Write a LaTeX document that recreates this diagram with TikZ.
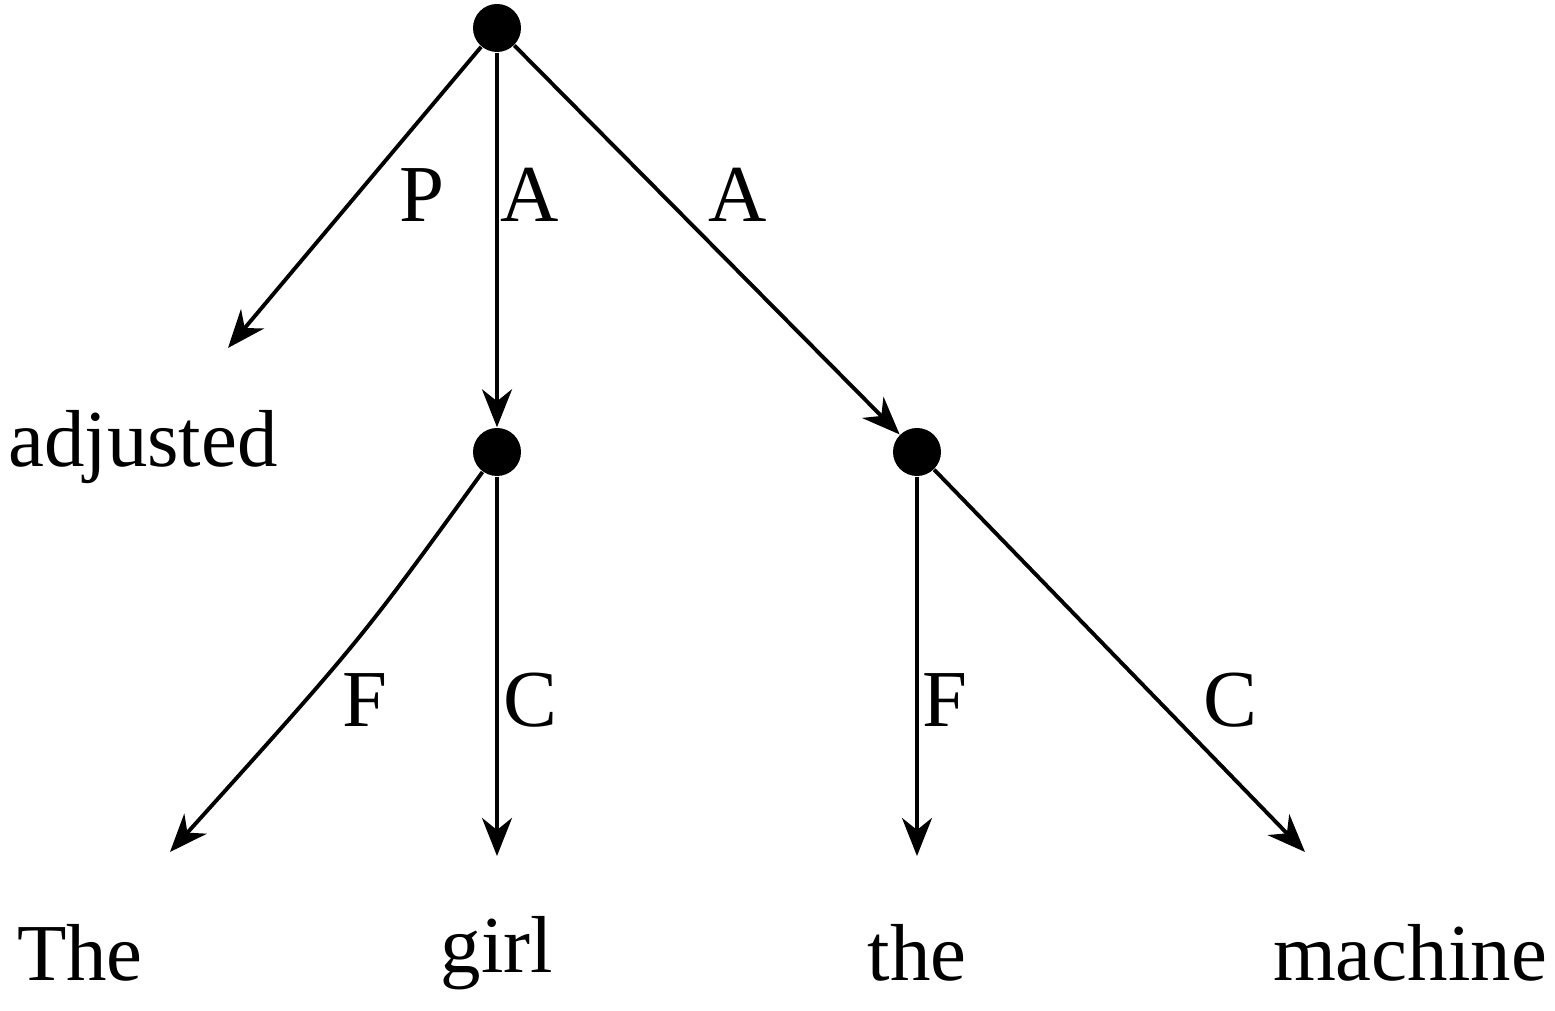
\documentclass[tikz,border=0pt]{standalone}
\usepackage{fontspec}
\setmainfont{Liberation Serif}
\usetikzlibrary{arrows.meta}
\begin{document}
\begin{tikzpicture}[x=1cm,y=1cm,
    dot/.style={circle, fill, inner sep=0pt, minimum size=0.48cm},
    word/.style={font=\fontsize{23}{26}\selectfont, inner sep=0pt},
    lbl/.style={font=\fontsize{23}{26}\selectfont, inner sep=0pt},
    edge/.style={line width=1.1pt, -{Stealth[length=0.38cm, width=0.3cm, inset=0.12cm]}}]
    \useasboundingbox (0,0) rectangle (15.55,10.11);
    % knoten
    \node[dot] (R) at (4.97, 9.83) {};
    \node[dot] (G) at (4.97, 5.59) {};
    \node[dot] (M) at (9.17, 5.59) {};
    % pfeilenden
    \coordinate (adj) at (2.28, 6.63);
    \coordinate (t1) at (1.70, 1.59);
    \coordinate (t2) at (4.97, 1.55);
    \coordinate (t3) at (9.17, 1.55);
    \coordinate (t4) at (13.05, 1.59);
    % woerter
    \node[word] (wadj) at (1.43, 5.64) {adjusted};
    \node[word] (wThe) at (0.80, 0.58) {The};
    \node[word] (wgirl) at (4.97, 0.58) {girl};
    \node[word] (wthe) at (9.17, 0.58) {the};
    \node[word] (wmach) at (14.10, 0.58) {machine};

    % kanten
    \draw[edge] (R) -- (adj);
    \draw[edge] (R) -- (G);
    \draw[edge] (R) -- (M);
    \draw[edge] (G) .. controls (3.6, 3.7) .. (t1);
    \draw[edge] (G) -- (t2);
    \draw[edge] (M) -- (t3);
    \draw[edge] (M) -- (t4);

    % beschriftungen
    \node[lbl] (lP) at (4.22, 8.16) {P};
    \node[lbl] (lA1) at (5.30, 8.16) {A};
    \node[lbl] (lA2) at (7.38, 8.16) {A};
    \node[lbl] (lF1) at (3.65, 3.11) {F};
    \node[lbl] (lC1) at (5.30, 3.11) {C};
    \node[lbl] (lF2) at (9.45, 3.11) {F};
    \node[lbl] (lC2) at (12.30, 3.11) {C};
\end{tikzpicture}
\end{document}
